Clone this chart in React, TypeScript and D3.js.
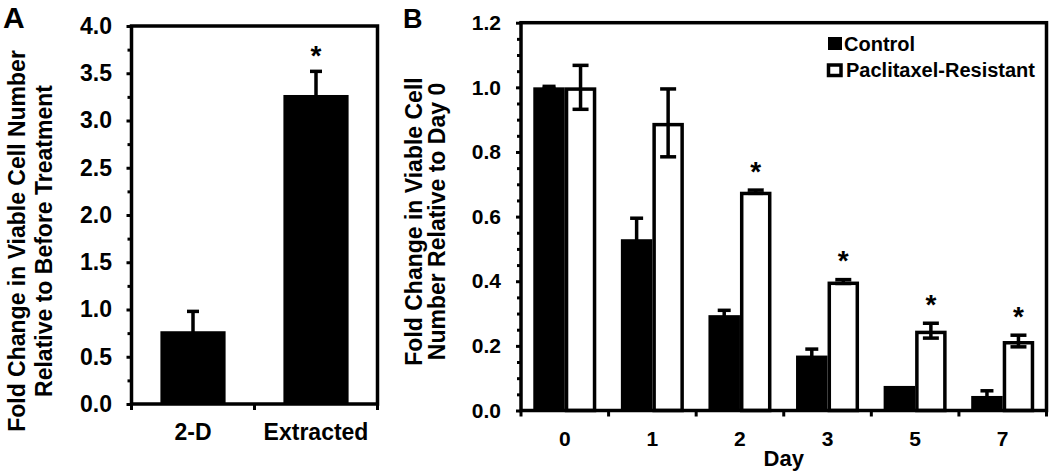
import React, { useEffect, useRef } from 'react';
import * as d3 from 'd3';

const W = 1050;
const H = 474;
const FONT = '"Liberation Sans", Arial, Helvetica, sans-serif';

// ---------- Panel A data ----------
const aCategories = ['2-D', 'Extracted'];
const aValues = [0.77, 3.27];
const aErrors = [0.21, 0.25];
const aSignificant = [false, true];
const aYTicks = [0, 0.5, 1, 1.5, 2, 2.5, 3, 3.5, 4];
const aYMinorTicks = [0.25, 0.75, 1.25, 1.75, 2.25, 2.75, 3.25, 3.75];

// ---------- Panel B data ----------
const bDays = ['0', '1', '2', '3', '5', '7'];
const bSeries = ['Control', 'Paclitaxel-Resistant'];
const bControl = [1.0, 0.53, 0.295, 0.17, 0.076, 0.045];
const bControlErr = [0.003, 0.065, 0.015, 0.02, 0, 0.016];
const bResistant = [1.0, 0.89, 0.677, 0.399, 0.247, 0.215];
const bResistantErr = [0.068, 0.105, 0.005, 0.006, 0.023, 0.018];
const bSignificant = [false, false, true, true, true, true];
const bYTicks = [0, 0.2, 0.4, 0.6, 0.8, 1.0, 1.2];
const bYMinorTicks = [0.05, 0.1, 0.15, 0.25, 0.3, 0.35, 0.45, 0.5, 0.55, 0.65, 0.7, 0.75, 0.85, 0.9, 0.95, 1.05, 1.1, 1.15];

export default function App() {
  const ref = useRef<SVGSVGElement | null>(null);

  useEffect(() => {
    const svg = d3.select(ref.current);
    svg.selectAll('*').remove();
    const SW = 3.5;

    const styleAxis = (g: any, fs: number) => {
      g.select('.domain').remove();
      g.selectAll('.tick line').attr('stroke', '#000').attr('stroke-width', 3);
      g.selectAll('.tick text')
        .attr('fill', '#000')
        .style('font-family', FONT)
        .style('font-weight', 'bold')
        .style('font-size', fs + 'px');
    };

    // ================= Panel A =================
    const aL = 131.5, aR = 377.5, aT = 26, aB = 404;
    const ay = d3.scaleLinear().domain([0, 4]).range([aB, aT]);
    const ax = d3.scaleBand<string>().domain(aCategories).range([aL, aR]).padding(0);
    const aBarW = ax.bandwidth() * 0.53;
    const gA = svg.append('g');

    gA.selectAll('rect.bar')
      .data(aCategories)
      .join('rect')
      .attr('x', (d) => (ax(d) as number) + ax.bandwidth() / 2 - aBarW / 2)
      .attr('y', (_d, i) => ay(aValues[i]))
      .attr('width', aBarW)
      .attr('height', (_d, i) => aB - ay(aValues[i]))
      .attr('fill', '#000');

    aCategories.forEach((d, i) => {
      const cx = (ax(d) as number) + ax.bandwidth() / 2;
      const top = ay(aValues[i] + aErrors[i]);
      const bot = ay(aValues[i] - aErrors[i]);
      gA.append('line').attr('x1', cx).attr('x2', cx).attr('y1', top).attr('y2', bot)
        .attr('stroke', '#000').attr('stroke-width', SW);
      [top, bot].forEach((yy) => {
        gA.append('line').attr('x1', cx - 6).attr('x2', cx + 6).attr('y1', yy).attr('y2', yy)
          .attr('stroke', '#000').attr('stroke-width', SW);
      });
      if (aSignificant[i]) {
        gA.append('text').attr('x', cx).attr('y', top - 6.5).attr('text-anchor', 'middle')
          .style('font-family', FONT).style('font-weight', 'bold').style('font-size', '28px')
          .text('*');
      }
    });

    const gAy = gA.append('g').attr('transform', `translate(${aL},0)`)
      .call(d3.axisLeft(ay).tickValues(aYTicks).tickFormat(d3.format('.1f')).tickSize(5).tickPadding(14.5));
    styleAxis(gAy, 23);
    const gAyMinor = gA.append('g').attr('transform', `translate(${aL},0)`)
      .call(d3.axisLeft(ay).tickValues(aYMinorTicks).tickFormat(() => '').tickSize(4));
    styleAxis(gAyMinor, 23);

    const gAx = gA.append('g').attr('transform', `translate(0,${aB})`)
      .call(d3.axisBottom(ax).tickSize(0));
    styleAxis(gAx, 23);
    gAx.selectAll('.tick text').attr('y', 36).attr('dy', '0');

    const aBounds = [...aCategories.map((d) => ax(d) as number), aR];
    gA.selectAll('line.bound').data(aBounds).join('line')
      .attr('x1', (d) => d).attr('x2', (d) => d).attr('y1', aB).attr('y2', aB + 6)
      .attr('stroke', '#000').attr('stroke-width', 3);

    gA.append('rect').attr('x', aL).attr('y', aT).attr('width', aR - aL).attr('height', aB - aT)
      .attr('fill', 'none').attr('stroke', '#000').attr('stroke-width', SW);

    const aTitle = gA.append('g').attr('transform', `translate(0,241) rotate(-90)`);
    ['Fold Change in Viable Cell Number', 'Relative to Before Treatment'].forEach((t, i) => {
      aTitle.append('text').attr('x', 0).attr('y', i === 0 ? 25 : 51.5).attr('text-anchor', 'middle')
        .style('font-family', FONT).style('font-weight', 'bold').style('font-size', '23px').text(t);
    });
    gA.append('text').attr('x', 3).attr('y', 28)
      .style('font-family', FONT).style('font-weight', 'bold').style('font-size', '30px').text('A');

    // ================= Panel B =================
    const bL = 521, bR = 1046.5, bT = 22.7, bB = 410.5;
    const by = d3.scaleLinear().domain([0, 1.2]).range([bB, bT]);
    const x0 = d3.scaleBand<string>().domain(bDays).range([bL, bR]).padding(0);
    const x1 = d3.scaleBand<string>().domain(bSeries).range([0, x0.bandwidth()]).paddingInner(0).paddingOuter(0.39);
    const gB = svg.append('g');

    const seriesVals = [bControl, bResistant];
    const seriesErr = [bControlErr, bResistantErr];
    const capHalf = [6.5, 8];

    bSeries.forEach((s, si) => {
      const vals = seriesVals[si];
      const inset = si === 0 ? 0 : SW / 2;
      gB.selectAll(`rect.s${si}`)
        .data(bDays)
        .join('rect')
        .attr('x', (d) => (x0(d) as number) + (x1(s) as number) + inset)
        .attr('y', (_d, i) => by(vals[i]) + inset)
        .attr('width', x1.bandwidth() - 2 * inset)
        .attr('height', (_d, i) => Math.max(0, bB - by(vals[i]) - inset))
        .attr('fill', si === 0 ? '#000' : '#fff')
        .attr('stroke', si === 0 ? 'none' : '#000')
        .attr('stroke-width', SW);
    });

    bSeries.forEach((s, si) => {
      const vals = seriesVals[si];
      const errs = seriesErr[si];
      bDays.forEach((d, i) => {
        if (errs[i] <= 0) return;
        const cx = (x0(d) as number) + (x1(s) as number) + x1.bandwidth() / 2;
        const top = by(vals[i] + errs[i]);
        const bot = by(vals[i] - errs[i]);
        gB.append('line').attr('x1', cx).attr('x2', cx).attr('y1', top).attr('y2', bot)
          .attr('stroke', '#000').attr('stroke-width', SW);
        [top, bot].forEach((yy) => {
          gB.append('line').attr('x1', cx - capHalf[si]).attr('x2', cx + capHalf[si]).attr('y1', yy).attr('y2', yy)
            .attr('stroke', '#000').attr('stroke-width', SW);
        });
      });
    });

    bDays.forEach((d, i) => {
      if (!bSignificant[i]) return;
      const cx = (x0(d) as number) + (x1(bSeries[1]) as number) + x1.bandwidth() / 2;
      const top = by(bResistant[i] + bResistantErr[i]);
      gB.append('text').attr('x', cx).attr('y', top - 9.5).attr('text-anchor', 'middle')
        .style('font-family', FONT).style('font-weight', 'bold').style('font-size', '28px').text('*');
    });

    const gBy = gB.append('g').attr('transform', `translate(${bL},0)`)
      .call(d3.axisLeft(by).tickValues(bYTicks).tickFormat(d3.format('.1f')).tickSize(5).tickPadding(15));
    styleAxis(gBy, 21);
    const gByMinor = gB.append('g').attr('transform', `translate(${bL},0)`)
      .call(d3.axisLeft(by).tickValues(bYMinorTicks).tickFormat(() => '').tickSize(4));
    styleAxis(gByMinor, 21);

    const gBx = gB.append('g').attr('transform', `translate(0,${bB})`)
      .call(d3.axisBottom(x0).tickSize(0));
    styleAxis(gBx, 21);
    gBx.selectAll('.tick text').attr('y', 35.5).attr('dy', '0');

    const bBounds = [...bDays.map((d) => x0(d) as number), bR];
    gB.selectAll('line.bound').data(bBounds).join('line')
      .attr('x1', (d) => d).attr('x2', (d) => d).attr('y1', bB).attr('y2', bB + 6)
      .attr('stroke', '#000').attr('stroke-width', 3);

    gB.append('rect').attr('x', bL).attr('y', bT).attr('width', bR - bL).attr('height', bB - bT)
      .attr('fill', 'none').attr('stroke', '#000').attr('stroke-width', SW);

    gB.append('text').attr('x', (bL + bR) / 2).attr('y', 466).attr('text-anchor', 'middle')
      .style('font-family', FONT).style('font-weight', 'bold').style('font-size', '22px').text('Day');

    const bTitle = gB.append('g').attr('transform', `translate(0,221.5) rotate(-90)`);
    ['Fold Change in Viable Cell', 'Number Relative to Day 0'].forEach((t, i) => {
      bTitle.append('text').attr('x', 0).attr('y', i === 0 ? 421.5 : 444.5).attr('text-anchor', 'middle')
        .style('font-family', FONT).style('font-weight', 'bold').style('font-size', '23px').text(t);
    });
    gB.append('text').attr('x', 403).attr('y', 28)
      .style('font-family', FONT).style('font-weight', 'bold').style('font-size', '27px').text('B');

    // Legend
    const lg = gB.append('g');
    lg.append('rect').attr('x', 828).attr('y', 37).attr('width', 14).attr('height', 13).attr('fill', '#000');
    lg.append('rect').attr('x', 828.5).attr('y', 65).attr('width', 12.5).attr('height', 10.5)
      .attr('fill', '#fff').attr('stroke', '#000').attr('stroke-width', SW);
    lg.append('text').attr('x', 844).attr('y', 50.5)
      .style('font-family', FONT).style('font-weight', 'bold').style('font-size', '20px').text(bSeries[0]);
    lg.append('text').attr('x', 846).attr('y', 76.5)
      .style('font-family', FONT).style('font-weight', 'bold').style('font-size', '20px').text(bSeries[1]);
  }, []);

  return (
    <svg
      ref={ref}
      width={W}
      height={H}
      viewBox={`0 0 ${W} ${H}`}
      style={{ position: 'absolute', left: 0, top: 0, background: '#fff' }}
    />
  );
}
